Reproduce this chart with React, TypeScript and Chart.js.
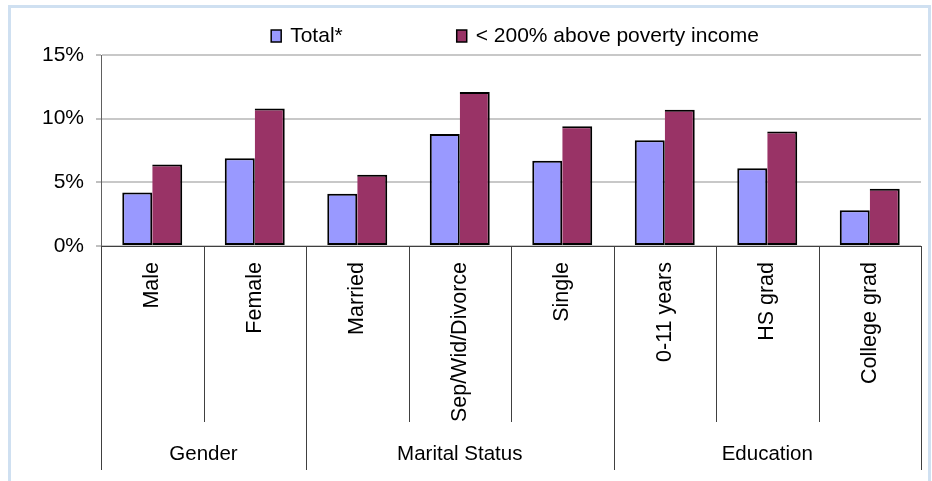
import React, { useEffect, useRef } from "react";
import { Chart, registerables } from "chart.js";

Chart.register(...registerables);

const categories = [
  "Male",
  "Female",
  "Married",
  "Sep/Wid/Divorce",
  "Single",
  "0-11 years",
  "HS grad",
  "College grad",
];
const groups = ["Gender", "Marital Status", "Education"];
const groupSizes = [2, 3, 3];
const seriesNames = ["Total*", "< 200% above poverty income"];
const totalValues = [4.2, 6.9, 4.1, 8.8, 6.7, 8.3, 6.1, 2.8];
const povertyValues = [6.4, 10.8, 5.6, 12.1, 9.4, 10.7, 9.0, 4.5];
const yMin = 0;
const yMax = 15;
const yStep = 5;

const FONT = "'Liberation Sans', Arial, Helvetica, sans-serif";
const LINE = "#404040";

const legendPlugin = {
  id: "customLegend",
  afterDraw(chart: any) {
    const ctx = chart.ctx;
    const ca = chart.chartArea;
    ctx.save();
    ctx.font = `21px ${FONT}`;
    const boxW = 10;
    const boxH = 12;
    const gapText = 9;
    const gapItem = 114;
    const items = chart.data.datasets.map((ds: any) => ({
      text: ds.label,
      color: ds.backgroundColor,
      w: boxW + gapText + ctx.measureText(ds.label).width,
    }));
    const total =
      items.reduce((s: number, it: any) => s + it.w, 0) +
      gapItem * (items.length - 1);
    let x = (ca.left + ca.right) / 2 + 4 - total / 2;
    const baseline = ca.top - 13;
    items.forEach((it: any) => {
      ctx.fillStyle = it.color;
      ctx.fillRect(x, baseline - boxH, boxW, boxH);
      ctx.strokeStyle = "#000";
      ctx.lineWidth = 1.5;
      ctx.strokeRect(x, baseline - boxH, boxW, boxH);
      ctx.fillStyle = "#000";
      ctx.textBaseline = "alphabetic";
      ctx.textAlign = "left";
      ctx.fillText(it.text, x + boxW + gapText, baseline);
      x += it.w + gapItem;
    });
    ctx.restore();
  },
};

const groupPlugin = {
  id: "groupAxis",
  afterDraw(chart: any) {
    const ctx = chart.ctx;
    const xs = chart.scales.x;
    const base = chart.chartArea.bottom;
    const n = categories.length;
    const groupBounds: number[] = [0];
    groupSizes.forEach((s) => groupBounds.push(groupBounds[groupBounds.length - 1] + s));
    const catLineEnd = chart.height - 59;
    const groupLineEnd = chart.height - 11;
    ctx.save();
    ctx.strokeStyle = LINE;
    ctx.lineWidth = 1;
    for (let i = 0; i <= n; i++) {
      const x = Math.round(xs.getPixelForValue(i - 0.5)) + 0.5;
      const isGroup = groupBounds.includes(i);
      ctx.beginPath();
      ctx.moveTo(x, base);
      ctx.lineTo(x, isGroup ? groupLineEnd : catLineEnd);
      ctx.stroke();
    }
    ctx.fillStyle = "#000";
    ctx.font = `20.5px ${FONT}`;
    ctx.textAlign = "center";
    ctx.textBaseline = "alphabetic";
    groups.forEach((g, gi) => {
      const x0 = xs.getPixelForValue(groupBounds[gi] - 0.5);
      const x1 = xs.getPixelForValue(groupBounds[gi + 1] - 0.5);
      ctx.fillText(g, (x0 + x1) / 2, chart.height - 21);
    });
    ctx.restore();
  },
};

export default function App() {
  const canvasRef = useRef<HTMLCanvasElement | null>(null);

  useEffect(() => {
    if (!canvasRef.current) return;
    const chart = new Chart(canvasRef.current, {
      type: "bar",
      data: {
        labels: categories,
        datasets: [
          {
            label: seriesNames[0],
            data: totalValues,
            backgroundColor: "#9999ff",
            borderColor: "#000000",
            borderWidth: 2,
            borderSkipped: false,
          },
          {
            label: seriesNames[1],
            data: povertyValues,
            backgroundColor: "#993366",
            borderColor: "#000000",
            borderWidth: { top: 2, right: 2, bottom: 2, left: 0 },
            borderSkipped: false,
          },
        ],
      },
      options: {
        animation: false,
        responsive: true,
        maintainAspectRatio: false,
        layout: { padding: { top: 55, right: 11, left: 0, bottom: 0 } },
        datasets: {
          bar: { categoryPercentage: 0.585, barPercentage: 1 },
        },
        plugins: {
          legend: { display: false },
          tooltip: { enabled: false },
          title: { display: false },
        },
        scales: {
          x: {
            offset: true,
            grid: { display: false },
            border: { display: true, color: LINE, width: 1 },
            ticks: {
              color: "#000",
              font: { family: FONT, size: 21.5 },
              minRotation: 90,
              maxRotation: 90,
              padding: 8,
              autoSkip: false,
            },
            afterFit(scale: any) {
              scale.height = 235;
            },
          },
          y: {
            min: yMin,
            max: yMax,
            ticks: {
              stepSize: yStep,
              color: "#000",
              font: { family: FONT, size: 21 },
              padding: 12,
              callback: (v: any) => `${v}%`,
            },
            grid: {
              color: "#c8c8c8",
              lineWidth: 2,
              drawTicks: true,
              tickLength: 5,
              tickColor: "#808080",
              tickWidth: 1,
            },
            border: { display: true, color: "#606060", width: 1 },
            afterFit(scale: any) {
              scale.width = 101;
            },
          },
        },
      },
      plugins: [legendPlugin, groupPlugin],
    });
    return () => chart.destroy();
  }, []);

  return (
    <div>
      <div
        style={{
          position: "absolute",
          left: 8,
          top: 5,
          width: 923,
          height: 476,
          boxSizing: "border-box",
          borderTop: "3px solid #cfe0f1",
          borderLeft: "3px solid #cfe0f1",
          borderRight: "3px solid #cfe0f1",
        }}
      />
      <div style={{ position: "absolute", left: 0, top: 0, width: 932, height: 481 }}>
        <canvas ref={canvasRef} />
      </div>
    </div>
  );
}
